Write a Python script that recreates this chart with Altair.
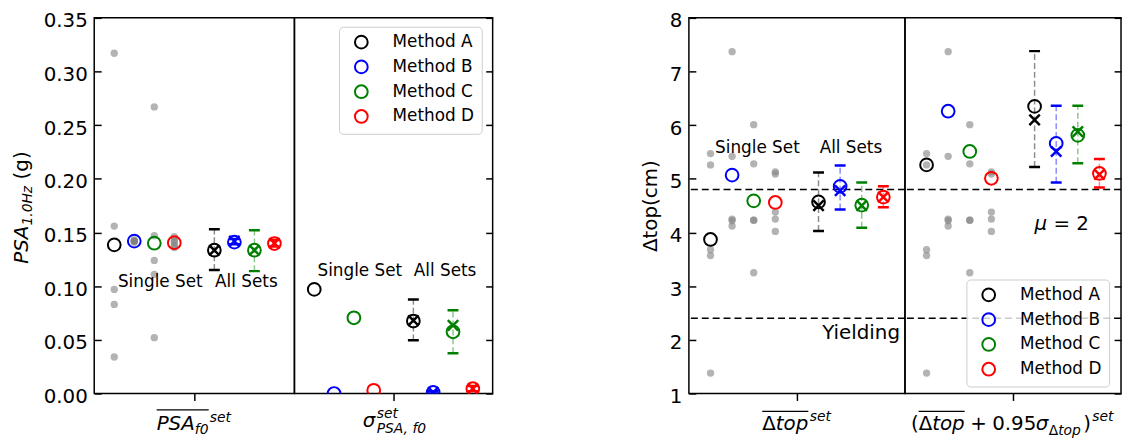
import altair as alt
import pandas as pd

FONT = "DejaVu Sans"
methods = ["Method A", "Method B", "Method C", "Method D"]
method_colors = ["#000000", "#0000ff", "#008000", "#ff0000"]
single_pos = [-4, -3, -2, -1]
all_pos = [1, 2, 3, 4]

psa_ticks = [0.0, 0.05, 0.10, 0.15, 0.20, 0.25, 0.30, 0.35]
top_ticks = [1, 2, 3, 4, 5, 6, 7, 8]

# individual ground-motion sets (grey dots)
psa_sets_a = [0.317, 0.156, 0.097, 0.083, 0.034]
psa_sets_b = [0.143, 0.142, 0.142, 0.141, 0.142]
psa_sets_c = [0.267, 0.147, 0.124, 0.111, 0.052]
psa_sets_d = [0.146, 0.143, 0.141, 0.138, 0.136]

top_sets_a = [5.47, 5.26, 3.68, 3.57, 1.38]
top_sets_b = [7.37, 5.42, 4.25, 4.22, 4.12]
top_sets_c = [6.01, 5.28, 4.23, 4.23, 3.25]
top_sets_d = [5.13, 5.09, 4.38, 4.25, 4.02]

# PSA mean
psa_single = [0.1385, 0.142, 0.140, 0.1405]
psa_all_mean = [0.1335, 0.141, 0.1335, 0.1397]
psa_all_med = [0.1335, 0.142, 0.1335, 0.140]
psa_all_lo = [0.115, 0.139, 0.114, 0.137]
psa_all_hi = [0.153, 0.144, 0.152, 0.143]

# PSA sigma
sig_single = [0.097, 0.0, 0.0705, 0.003]
sig_all_mean = [0.0675, 0.001, 0.0575, 0.0045]
sig_all_med = [0.068, 0.001, 0.0635, 0.0045]
sig_all_lo = [0.0495, 0.0, 0.0375, 0.002]
sig_all_hi = [0.0875, 0.002, 0.0775, 0.007]

# top displacement mean
top_single = [3.87, 5.07, 4.59, 4.56]
top_all_mean = [4.57, 4.86, 4.51, 4.66]
top_all_med = [4.50, 4.78, 4.50, 4.66]
top_all_lo = [4.03, 4.43, 4.09, 4.47]
top_all_hi = [5.12, 5.25, 4.93, 4.86]

# top displacement mean + 0.95 sigma
t95_single = [5.26, 6.26, 5.51, 5.01]
t95_all_mean = [6.35, 5.66, 5.81, 5.10]
t95_all_med = [6.10, 5.51, 5.88, 5.08]
t95_all_lo = [5.22, 4.93, 5.29, 4.84]
t95_all_hi = [7.38, 6.36, 6.36, 5.37]

ref_lines = [4.8, 2.4]

ann_psa = pd.DataFrame({"t": ["Single Set", "All Sets"], "x": [-1.7, 2.6], "y": [0.104, 0.104]})
ann_sig = pd.DataFrame({"t": ["Single Set", "All Sets"], "x": [-1.7, 2.6], "y": [0.114, 0.114]})
ann_top = pd.DataFrame({"t": ["Single Set", "All Sets"], "x": [-1.83, 2.5], "y": [5.58, 5.58]})
yield_df = pd.DataFrame({"t": ["Yielding"], "x": [4.77], "y": [2.13]})
mu_df = pd.DataFrame({"t": ["μ"], "x": [1.0], "y": [4.16]})
eq_df = pd.DataFrame({"t": ["= 2"], "x": [1.0], "y": [4.16]})

H = 379
ONE = pd.DataFrame({"d": [0]})
XSHAPE = "M -1 -1 L 1 1 M -1 1 L 1 -1"
CAP = "M -1 0 L 1 0"


def txt(text, x, y, size=20, italic=False, angle=0):
    return alt.Chart(pd.DataFrame({"t": [text]})).mark_text(
        font=FONT, fontSize=size, fontStyle="italic" if italic else "normal",
        align="left", baseline="alphabetic", angle=angle, color="black",
    ).encode(x=alt.value(x), y=alt.value(y), text="t:N")


def overline(x1, x2, y):
    return alt.Chart(ONE).mark_rule(color="black", strokeWidth=1.2).encode(
        x=alt.value(x1), x2=alt.value(x2), y=alt.value(y))


def legend_spec(lx, ly):
    return alt.Legend(
        orient="none", legendX=lx, legendY=ly, title=None,
        labelFont=FONT, labelFontSize=17, labelColor="black",
        symbolType="circle", symbolSize=165, symbolStrokeWidth=2,
        rowPadding=4, padding=7, symbolOffset=7, labelOffset=23,
        fillColor="rgba(255,255,255,0.8)", strokeColor="#cccccc", cornerRadius=4,
    )


def section(ydom, yaxis, single, amean, amed, alo, ahi, sets=None,
            legend=None, ann=None, ref=False, texts=()):
    xs = alt.Scale(domain=[-5, 5], nice=False, zero=False)
    ys = alt.Scale(domain=ydom, nice=False, zero=False)
    cs = alt.Scale(domain=methods, range=method_colors)
    xaxis = alt.Axis(values=[0], labels=False, tickSize=7, title=None, grid=False, domain=False)
    X = lambda f: alt.X(f"{f}:Q", scale=xs, axis=xaxis)
    Y = lambda f: alt.Y(f"{f}:Q", scale=ys, axis=yaxis)
    C = alt.Color("method:N", scale=cs, legend=None)

    sdf = pd.DataFrame({"method": methods, "pos": single_pos, "val": single})
    adf = pd.DataFrame({"method": methods, "pos": all_pos, "mean": amean,
                        "med": amed, "lo": alo, "hi": ahi})
    layers = []
    if sets is not None:
        rows = []
        for m, p, vals in zip(methods, single_pos, sets):
            for v in vals:
                rows.append({"method": m, "pos": p, "val": v})
        gdf = pd.DataFrame(rows)
        layers.append(alt.Chart(gdf).mark_circle(size=55, color="#808080", opacity=0.6, clip=True)
                      .encode(x=X("pos"), y=Y("val")))
    if ref:
        layers.append(alt.Chart(pd.DataFrame({"v": ref_lines})).mark_rule(
            color="black", strokeDash=[7, 4], strokeWidth=1.5).encode(y=Y("v")))
    layers.append(alt.Chart(sdf).mark_point(shape="circle", filled=False, size=165, strokeWidth=2,
                                            opacity=1, clip=True)
                  .encode(x=X("pos"), y=Y("val"),
                          color=alt.Color("method:N", scale=cs, legend=legend)))
    layers.append(alt.Chart(adf).mark_rule(strokeDash=[6, 3], strokeWidth=1.5, opacity=0.45, clip=True)
                  .encode(x=X("pos"), y=Y("lo"), y2="hi:Q", color=C))
    for f in ["lo", "hi"]:
        layers.append(alt.Chart(adf).mark_point(shape=CAP, filled=False, size=121, strokeWidth=2.5,
                                                opacity=1, clip=True)
                      .encode(x=X("pos"), y=Y(f), color=C))
    layers.append(alt.Chart(adf).mark_point(shape="circle", filled=False, size=165, strokeWidth=2,
                                            opacity=1, clip=True)
                  .encode(x=X("pos"), y=Y("mean"), color=C))
    layers.append(alt.Chart(adf).mark_point(shape=XSHAPE, filled=False, size=110, strokeWidth=2.5,
                                            opacity=1, clip=True)
                  .encode(x=X("pos"), y=Y("med"), color=C))
    if ann is not None:
        layers.append(alt.Chart(ann).mark_text(font=FONT, fontSize=17, color="black", baseline="middle")
                      .encode(x=X("x"), y=Y("y"), text="t:N"))
    for df, kw in texts:
        layers.append(alt.Chart(df).mark_text(font=FONT, color="black", baseline="middle", **kw)
                      .encode(x=X("x"), y=Y("y"), text="t:N"))
    return layers


# ---------- section A : mean PSA ----------
axA = alt.Axis(orient="left", values=psa_ticks, format=".2f", offset=-7, tickSize=7,
               labelPadding=7, labelOffset=3, title=None)
layersA = section([0, 0.35], axA, psa_single, psa_all_mean, psa_all_med,
                  psa_all_lo, psa_all_hi,
                  sets=[psa_sets_a, psa_sets_b, psa_sets_c, psa_sets_d], ann=ann_psa)
layersA += [
    txt("PSA", -67, 248, 20, True, 270),
    txt("1.0Hz", -63, 209.6, 14, True, 270),
    txt("(g)", -67, 163, 20, False, 270),
    txt("PSA", 63, 416, 20, True),
    txt("f0", 101.5, 420, 14, True),
    txt("set", 116.5, 408, 14, True),
    overline(63, 115.5, 395.5),
]
A = alt.layer(*layersA).properties(width=202, height=H)

# ---------- section B : sigma PSA ----------
axB = alt.Axis(orient="right", values=psa_ticks, labels=False, offset=-7, tickSize=7, title=None)
layersB = section([0, 0.35], axB, sig_single, sig_all_mean, sig_all_med,
                  sig_all_lo, sig_all_hi, legend=legend_spec(45, 9), ann=ann_sig)
layersB += [
    txt("σ", 69, 413, 20, True),
    txt("set", 83, 404, 14, True),
    txt("PSA, f0", 83, 419, 14, True),
]
B = alt.layer(*layersB).properties(width=200, height=H)

# ---------- spacer between the two panels ----------
spacer = (alt.Chart(ONE).mark_point(opacity=0)
          .encode(x=alt.value(0), y=alt.value(0))
          .properties(width=198, height=H, view=alt.ViewBackground(stroke="transparent")))

# ---------- section C : mean top displacement ----------
axC = alt.Axis(orient="left", values=top_ticks, format="d", offset=-7, tickSize=7,
               labelPadding=7, labelOffset=3, title="Δtop(cm)", titlePadding=9)
layersC = section([1, 8], axC, top_single, top_all_mean, top_all_med,
                  top_all_lo, top_all_hi,
                  sets=[top_sets_a, top_sets_b, top_sets_c, top_sets_d],
                  ann=ann_top, ref=True,
                  texts=[(yield_df, dict(fontSize=20, align="right"))])
layersC += [
    txt("Δ", 74, 416, 20, False),
    txt("top", 87.7, 416, 20, True),
    txt("set", 122, 407, 14, True),
    overline(74, 120.5, 397),
]
C = alt.layer(*layersC).properties(width=218, height=H)

# ---------- section D : top displacement + 0.95 sigma ----------
axD = alt.Axis(orient="right", values=top_ticks, labels=False, offset=-7, tickSize=7, title=None)
layersD = section([1, 8], axD, t95_single, t95_all_mean, t95_all_med,
                  t95_all_lo, t95_all_hi,
                  sets=[top_sets_a, top_sets_b, top_sets_c, top_sets_d],
                  legend=legend_spec(62, 264), ref=True,
                  texts=[(mu_df, dict(fontSize=20, fontStyle="italic", align="left")),
                         (eq_df, dict(fontSize=20, align="left", dx=19))])
layersD += [
    txt("(", 6, 416, 20, False),
    txt("Δ", 13.8, 416, 20, False),
    txt("top", 27.5, 416, 20, True),
    overline(13.8, 60.3, 397),
    txt("+", 66, 416, 20, False),
    txt("0.95", 88, 416, 20, False),
    txt("σ", 132, 416, 20, True),
    txt("Δ", 145, 421, 14, False),
    txt("top", 154.6, 421, 14, True),
    txt(")", 180, 416, 20, False),
    txt("set", 189, 407, 14, True),
]
D = alt.layer(*layersD).properties(width=218, height=H)

chart = (
    alt.hconcat(A, B, spacer, C, D, spacing=0, bounds="flush")
    .resolve_scale(color="independent")
    .resolve_legend(color="independent")
    .properties(padding={"left": 3, "top": 0, "right": 0, "bottom": 0})
    .configure_view(stroke="black", strokeWidth=1.5)
    .configure_axis(grid=False, domain=False, tickColor="black", tickWidth=1.5,
                    labelFont=FONT, labelFontSize=20, labelColor="black",
                    titleFont=FONT, titleFontSize=20, titleFontWeight="normal", titleColor="black")
)

chart.save("out.html", embed_options={"renderer": "svg", "actions": False})
